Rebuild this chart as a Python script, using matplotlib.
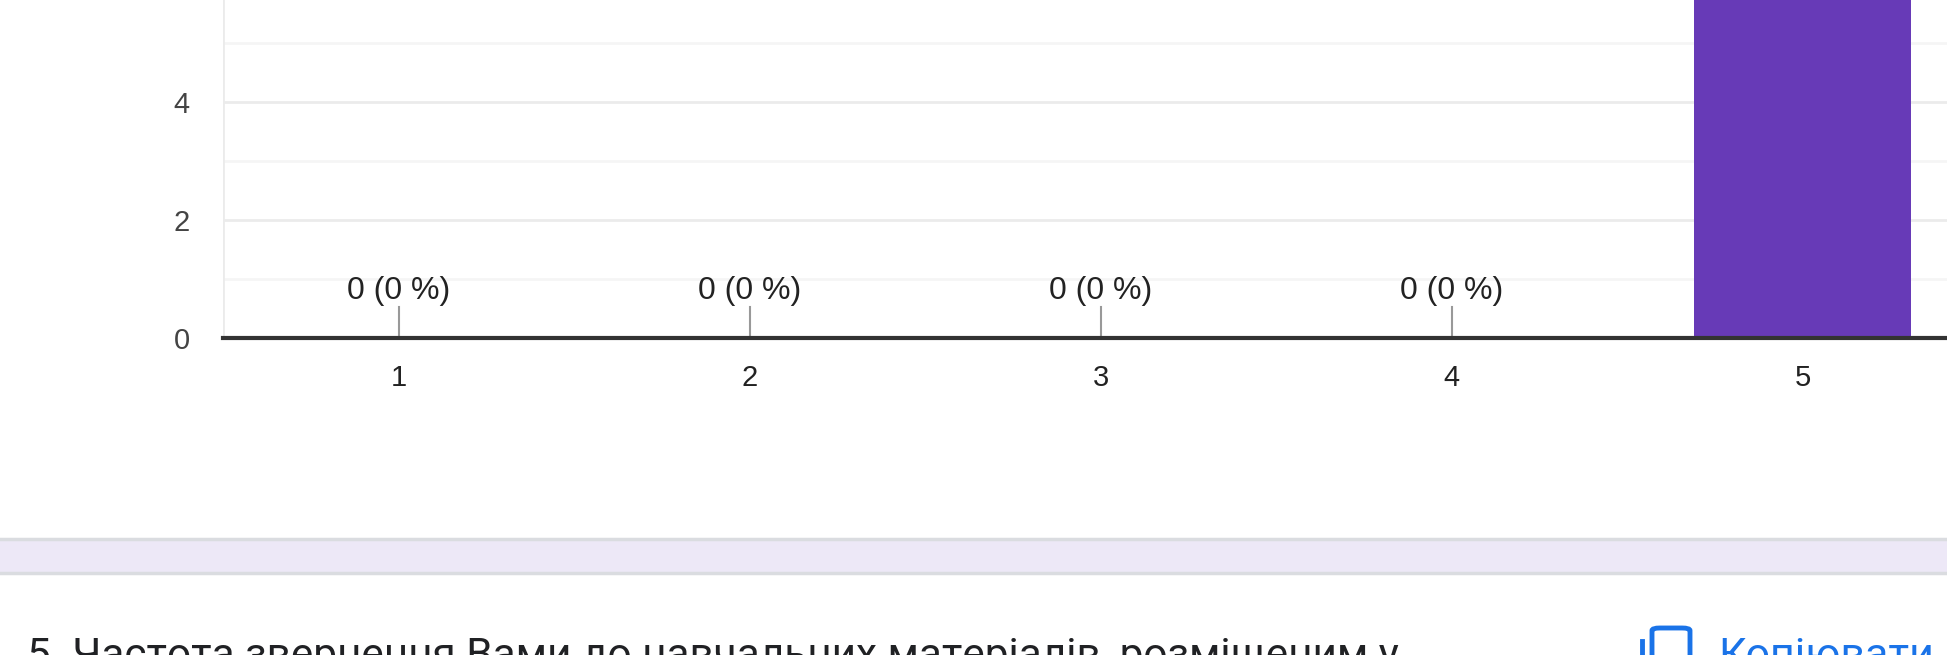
import matplotlib.pyplot as plt
from matplotlib.patches import Rectangle, FancyBboxPatch
from matplotlib.lines import Line2D

plt.rcParams['font.family'] = ['Liberation Sans', 'DejaVu Sans']

# data
categories = ['1', '2', '3', '4', '5']
counts = [0, 0, 0, 0, 10]
total = sum(counts)
labels = [f'{c} ({round(100 * c / total)} %)' for c in counts]
question = '5. Частота звернення Вами до навчальних матеріалів, розміщеним у'
copy_label = 'Копіювати'

W, H = 1947, 655
fig = plt.figure(figsize=(W / 100, H / 100), dpi=100)

# chart axes (top part of the chart is cropped off in the screenshot)
ax = fig.add_axes([223 / W, 1 - 338 / H, (1978 - 223) / W, 338 / H])
x = list(range(1, len(categories) + 1))
ymax = 338 / 59.0
ax.set_xlim(0.5, len(categories) + 0.5)
ax.set_ylim(0, ymax)

for v in range(1, 12):
    ax.axhline(v, color='#ebebeb' if v % 2 == 0 else '#f5f5f5', lw=2, zorder=0)

ax.bar(x, counts, width=0.62, color='#673ab7', zorder=2)
ax.axhline(0, color='#333333', lw=3, zorder=3, clip_on=False)

for xi, c, lab in zip(x, counts, labels):
    if c + 0.78 > ymax:
        continue  # label of the tall bar lies above the cropped area
    ax.plot([xi, xi], [c, c + 0.53], color='#999999', lw=1.5, zorder=2)
    ax.text(xi, c + 0.80, lab, ha='center', va='center', fontsize=23,
            color='#222222', zorder=4)

for s in ax.spines.values():
    s.set_visible(False)
ax.add_line(Line2D([0.5, 0.5], [0, 20], color='#ebebeb', lw=2, zorder=1))

ax.set_yticks([0, 2, 4])
ax.set_xticks(x)
ax.set_xticklabels(categories)
ax.tick_params(axis='y', length=0, pad=24, labelsize=21, labelcolor='#444444')
ax.tick_params(axis='x', length=0, pad=19, labelsize=21, labelcolor='#222222')

# section separator band below the chart
fig.patches.append(Rectangle((0, 1 - 574 / H), 1, 36 / H, transform=fig.transFigure,
                             facecolor='#ede8f7', edgecolor='none'))
fig.add_artist(Line2D([0, 1], [1 - 539 / H] * 2, color='#dadce0', lw=2.5))
fig.add_artist(Line2D([0, 1], [1 - 573 / H] * 2, color='#dadce0', lw=2.5))

# next question title, cut off at the bottom edge
fig.text(27 / W, 1 - 636 / H, question, ha='left', va='top', fontsize=30.5,
         color='#202124', family=['Roboto', 'DejaVu Sans'])

# copy button
fig.patches.append(FancyBboxPatch((1652 / W, 1 - 690 / H), 38 / W, 62 / H,
                                  boxstyle='round,pad=0,rounding_size=0.004',
                                  transform=fig.transFigure, fill=False,
                                  edgecolor='#1a73e8', lw=3.5))
fig.add_artist(Line2D([1642 / W] * 2, [1 - 641 / H, 1 - 700 / H], color='#1a73e8', lw=3.5))
fig.text(1718 / W, 1 - 636 / H, copy_label, ha='left', va='top', fontsize=31,
         color='#1a73e8', family=['Roboto', 'DejaVu Sans'])

fig.savefig('out.png', dpi=100)
